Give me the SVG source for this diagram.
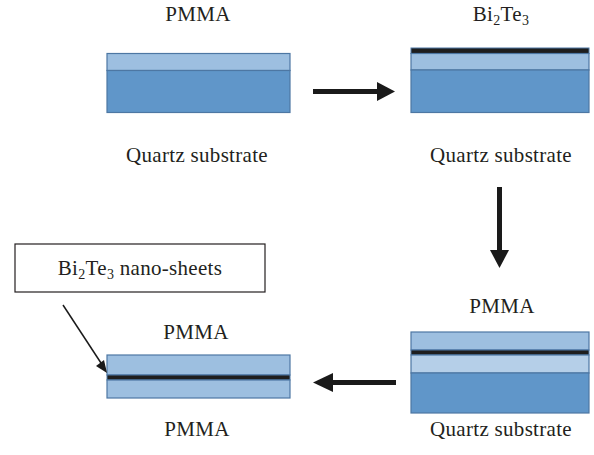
<svg xmlns="http://www.w3.org/2000/svg" width="594" height="455" viewBox="0 0 594 455">
<style>
text{font-family:"Liberation Serif","Times New Roman",serif;font-size:21px;letter-spacing:0.3px;fill:#231f20;text-anchor:middle}
.l{fill:#9dbfe0;stroke:#4d77a3;stroke-width:1.2}
.ll{fill:#b5cfe8;stroke:#4d77a3;stroke-width:1.2}
.d{fill:#6096c9;stroke:#4d77a3;stroke-width:1.2}
.k{fill:#1e1e1e;stroke:#4d77a3;stroke-width:1}
.a{stroke:#1a1a1a;stroke-width:5;fill:none}
.h{fill:#1a1a1a}
</style>
<rect width="594" height="455" fill="#fff"/>
<g id="step1">
<text x="198" y="21">PMMA</text>
<rect class="l" x="107" y="53.5" width="183" height="17"/>
<rect class="d" x="107" y="70.5" width="183" height="42"/>
<text x="197" y="162">Quartz substrate</text>
</g>
<g id="step2">
<text x="501" y="21">Bi<tspan font-size="14" dy="4">2</tspan><tspan dy="-4">Te</tspan><tspan font-size="14" dy="4">3</tspan></text>
<rect class="k" x="411" y="48" width="178" height="5.5"/>
<rect class="l" x="411" y="53.5" width="178" height="16.5"/>
<rect class="d" x="411" y="70" width="178" height="42.5"/>
<text x="501" y="162">Quartz substrate</text>
</g>
<g id="step3">
<text x="502" y="313">PMMA</text>
<rect class="l" x="411" y="332" width="178" height="18"/>
<rect class="k" x="411" y="350" width="178" height="5"/>
<rect class="ll" x="411" y="355" width="178" height="18"/>
<rect class="d" x="411" y="373" width="178" height="40"/>
<text x="501" y="436">Quartz substrate</text>
</g>
<g id="step4">
<text x="196" y="339">PMMA</text>
<rect class="l" x="107" y="355" width="183" height="20"/>
<rect class="k" x="107" y="375" width="183" height="5"/>
<rect class="l" x="107" y="380" width="183" height="18"/>
<text x="197" y="436">PMMA</text>
</g>
<g id="label">
<rect x="15" y="244" width="250" height="48" fill="#fff" stroke="#231f20" stroke-width="1.2"/>
<text x="140" y="275">Bi<tspan font-size="14" dy="4">2</tspan><tspan dy="-4">Te</tspan><tspan font-size="14" dy="4">3</tspan><tspan dy="-4"> nano-sheets</tspan></text>
</g>
<g id="connectors">
<line class="a" x1="313" y1="91.5" x2="380" y2="91.5"/>
<polygon class="h" points="377,82 395,91.5 377,101"/>
<line class="a" x1="499.5" y1="187" x2="499.5" y2="252"/>
<polygon class="h" points="490,250 499.5,268 509,250"/>
<line class="a" x1="396" y1="382.5" x2="330" y2="382.5"/>
<polygon class="h" points="333,373 313,382.5 333,392"/>
<line x1="63" y1="305" x2="101" y2="363" stroke="#1a1a1a" stroke-width="1.5"/>
<polygon class="h" points="96,366 107,373 104,360"/>
</g>
</svg>
